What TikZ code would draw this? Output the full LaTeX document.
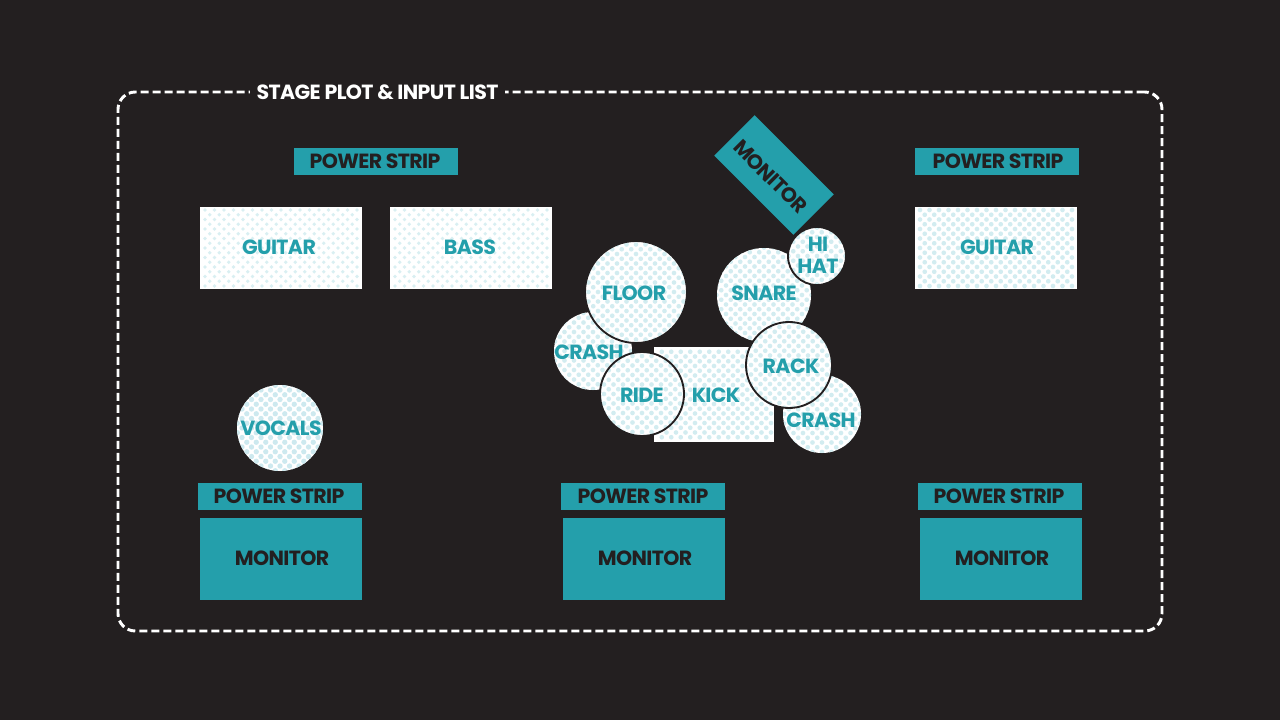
\documentclass[tikz,border=0pt]{standalone}
\usepackage{fontspec}
\newfontfamily\plotfont[LetterSpace=-3]{Poppins Bold}
\usetikzlibrary{shapes.geometric}
\definecolor{bg}{HTML}{231F20}
\definecolor{teal}{HTML}{249FAB}
\definecolor{dotlight}{HTML}{D9EFF2}
\definecolor{dotmid}{HTML}{D2ECF0}
\definecolor{dotstrong}{HTML}{CDE9EF}
\def\evencols{-9,...,9}\def\evenrows{-6,...,6}
\def\oddcols{-9,...,8}\def\oddrows{-6,...,5}
\tikzset{
  plot/.style={font=\plotfont\fontsize{15.4}{16.5}\selectfont,inner sep=0pt,align=center},
  size/.style 2 args={minimum width=#1*0.75pt,minimum height=#2*0.75pt},
  dia/.style={minimum size=#1*1.5pt,circle},
  evenc/.code={\def\evencols{#1}},
  evenr/.code={\def\evenrows{#1}},
  oddc/.code={\def\oddcols{#1}},
  oddr/.code={\def\oddrows{#1}},
  cabinet/.style={evenc={-8,...,8},evenr={-4,...,4},oddc={-8,...,7},oddr={-4,...,3}},
  kickbox/.style={evenc={-6,...,6},evenr={-4,...,4},oddc={-6,...,5},oddr={-5,...,4}},
  dotted fill/.style 2 args={plot,text=teal,fill=white,path picture={
    \begin{scope}[shift={(path picture bounding box.center)}]
    \foreach \i in \evencols \foreach \j in \evenrows {\fill[#2] (\i*9.5,\j*9.5) circle (#1);}
    \foreach \i in \oddcols \foreach \j in \oddrows {\fill[#2] (\i*9.5+4.75,\j*9.5+4.75) circle (#1);}
    \end{scope}}},
  amp/.style={dotted fill={1.4pt}{dotlight}},
  ampstrong/.style={dotted fill={1.75pt}{dotmid}},
  drum/.style={dotted fill={2pt}{dotstrong}},
  edged/.style={draw=bg,line width=1.4pt},
  solid teal/.style={plot,fill=teal,text=bg},
  tag/.style={plot,text=teal},
  tagdark/.style={plot,text=bg},
}
\begin{document}
\begin{tikzpicture}[x=0.75pt,y=-0.75pt]
\useasboundingbox[fill=bg] (0,0) rectangle (1280,720);
\node[draw=white,line width=2.2pt,dash pattern=on 6pt off 3pt,rounded corners=13pt,size={1044}{539},inner sep=0pt] (frame) at (640,361.5) {};
\node[plot,fill=bg,text=white,size={255}{24}] (title) at (377.5,92) {STAGE PLOT \& INPUT LIST};
% power strips
\node[solid teal,size={164}{27}] (psa) at (376,161.5) {};
\node[tagdark] (psat) at (375,161) {POWER STRIP};
\node[solid teal,size={164}{27}] (psb) at (997,161.5) {};
\node[tagdark] (psbt) at (998,161) {POWER STRIP};
\node[solid teal,size={164}{27}] (psc) at (280,496.5) {};
\node[tagdark] (psct) at (279,496) {POWER STRIP};
\node[solid teal,size={164}{27}] (psd) at (643,496.5) {};
\node[tagdark] (psdt) at (643,496) {POWER STRIP};
\node[solid teal,size={164}{27}] (pse) at (1000,496.5) {};
\node[tagdark] (pset) at (999,496) {POWER STRIP};
% monitors
\node[solid teal,size={162}{82}] (mona) at (281,559) {};
\node[tagdark] (monat) at (282,558) {MONITOR};
\node[solid teal,size={162}{82}] (monb) at (644,559) {};
\node[tagdark] (monbt) at (645,558) {MONITOR};
\node[solid teal,size={162}{82}] (monc) at (1001,559) {};
\node[tagdark] (monct) at (1002,558) {MONITOR};
\node[solid teal,size={112}{57},rotate=-45] (mond) at (774,175) {};
\node[tagdark,rotate=-45] (mondt) at (770.5,176.5) {MONITOR};
% amps
\node[amp,cabinet,size={162}{82}] (gta) at (281,248) {};
\node[tag] (gtat) at (279,247) {GUITAR};
\node[amp,cabinet,size={162}{82}] (bass) at (471,248) {};
\node[tag] (basst) at (470,247) {BASS};
\node[ampstrong,cabinet,size={162}{82}] (gtb) at (996,248) {};
\node[tag] (gtbt) at (997,247) {GUITAR};
% vocals
\node[drum,dia=43] (voc) at (280,428) {};
\node[tag] (voct) at (281,428) {VOCALS};
% kit
\node[ampstrong,dia=39] (crasha) at (593,351) {};
\node[tag] (crashat) at (589,352) {CRASH};
\node[ampstrong,kickbox,size={120}{95}] (kick) at (714,394.5) {};
\node[tag] (kickt) at (716,395) {KICK};
\node[ampstrong,dia=39] (crashb) at (822,414) {};
\node[tag] (crashbt) at (821,420) {CRASH};
\node[ampstrong,dia=47] (snare) at (764,295) {};
\node[tag] (snaret) at (764,293) {SNARE};
\node[ampstrong,edged,dia=51] (floor) at (636,292) {};
\node[tag] (floort) at (634,293) {FLOOR};
\node[ampstrong,edged,dia=42] (ride) at (642,394) {};
\node[tag] (ridet) at (642,395) {RIDE};
\node[ampstrong,edged,dia=43] (rack) at (789,365) {};
\node[tag] (rackt) at (791,366) {RACK};
\node[ampstrong,edged,dia=29] (hihat) at (817,256) {};
\node[tag] (hihatt) at (818,255) {HI\\HAT};
\end{tikzpicture}
\end{document}
